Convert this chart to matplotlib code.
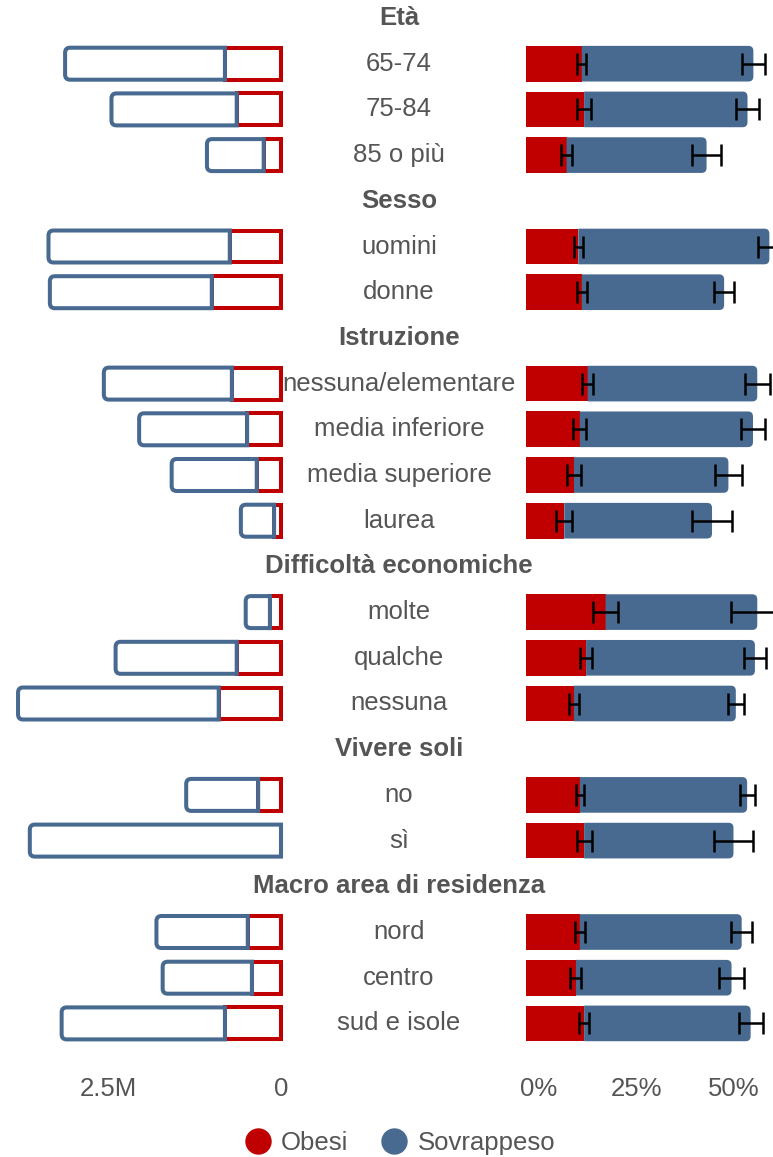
import matplotlib
matplotlib.use("Agg")
import matplotlib.pyplot as plt
from matplotlib.path import Path
from matplotlib.patches import PathPatch, Rectangle
from matplotlib.lines import Line2D
from matplotlib import transforms

plt.rcParams["font.family"] = ["Liberation Sans", "DejaVu Sans"]

# gruppi e categorie
groups = ["Età", "Sesso", "Istruzione", "Difficoltà economiche", "Vivere soli",
          "Macro area di residenza"]
group_sizes = [3, 2, 4, 3, 2, 3]
labels = ["65-74", "75-84", "85 o più",
          "uomini", "donne",
          "nessuna/elementare", "media inferiore", "media superiore", "laurea",
          "molte", "qualche", "nessuna",
          "no", "sì",
          "nord", "centro", "sud e isole"]

# stime di popolazione (migliaia di persone)
obesi_num = [810, 640, 250, 740, 1000, 710, 490, 350, 100, 160, 640, 900,
             330, 0, 480, 420, 810]
sovrap_num = [2310, 1810, 820, 2620, 2340, 1850, 1560, 1230, 480, 350, 1750,
              2900, 1040, 3630, 1320, 1290, 2360]

# prevalenze (%) e intervalli di confidenza (semiampiezza)
obesi_pct = [14.3, 14.9, 10.4, 13.4, 14.3, 15.8, 13.8, 12.3, 9.8, 20.4, 15.4,
             12.3, 13.8, 14.9, 13.8, 12.8, 14.9]
sovrap_pct = [44.0, 41.9, 35.9, 49.0, 36.5, 43.5, 44.4, 39.6, 37.9, 38.9, 43.3,
              41.5, 42.9, 38.3, 41.5, 39.9, 42.7]
obesi_err = [1.2, 1.7, 1.5, 1.2, 1.3, 1.5, 1.7, 1.7, 2.1, 3.1, 1.5, 1.2, 1.0,
             1.9, 1.3, 1.4, 1.2]
sovrap_err = [2.9, 2.9, 3.8, 2.8, 2.5, 3.2, 3.2, 3.4, 5.1, 6.8, 2.9, 2.1, 1.9,
              5.0, 2.7, 3.2, 3.1]

RED = "#c00000"
BLUE = "#496a90"
GREY = "#555555"
FS = 18.5

# una riga per ogni titolo di gruppo e per ogni categoria
header_y = []
rows_y = []
pos = 0
for n in group_sizes:
    header_y.append(pos)
    pos = pos + 1
    for i in range(n):
        rows_y.append(pos)
        pos = pos + 1

W, H = 773, 1157
fig = plt.figure(figsize=(W / 100, H / 100), dpi=100)


def px_axes(x0, x1, y0, y1):
    return fig.add_axes([x0 / W, 1 - y1 / H, (x1 - x0) / W, (y1 - y0) / H])


slot_px = 45.7
ax_top, ax_bottom = 0, 1046
first_px = 18
ymin = -(first_px - ax_top) / slot_px
ymax = (ax_bottom - first_px) / slot_px

px_per_k = 69.2 / 1000   # pixels per migliaio
px_per_pct = 3.9

ax_l = px_axes(0, 288, ax_top, ax_bottom)
ax_r = px_axes(526, 773, ax_top, ax_bottom)

ax_l.set_xlim(281 / px_per_k, -7 / px_per_k)
ax_r.set_xlim(0, 247 / px_per_pct)
for ax in [ax_l, ax_r]:
    ax.set_ylim(ymax, ymin)
    for s in ax.spines.values():
        s.set_visible(False)
    ax.set_yticks([])
    ax.tick_params(axis="x", length=0, labelsize=FS, labelcolor=GREY, pad=22)


def half_round(x_sq, x_rd, y0, y1, rx, ry):
    # rettangolo con gli angoli arrotondati solo dal lato x_rd
    s = 1 if x_rd > x_sq else -1
    verts = [(x_sq, y0), (x_rd - s * rx, y0), (x_rd, y0), (x_rd, y0 + ry),
             (x_rd, y1 - ry), (x_rd, y1), (x_rd - s * rx, y1), (x_sq, y1),
             (x_sq, y0)]
    codes = [Path.MOVETO, Path.LINETO, Path.CURVE3, Path.CURVE3,
             Path.LINETO, Path.CURVE3, Path.CURVE3, Path.LINETO,
             Path.CLOSEPOLY]
    return Path(verts, codes)


ry = 5 / slot_px
h = 0.78
h_out = 0.70

# pannello sinistro: numero di persone, solo contorni
for i in range(len(labels)):
    y = rows_y[i]
    ob = obesi_num[i]
    tot = obesi_num[i] + sovrap_num[i]
    ax_l.add_patch(Rectangle((0, y - h_out / 2), ob, h_out, fill=False,
                             edgecolor=RED, linewidth=2.9))
    p = half_round(ob, tot, y - h_out / 2, y + h_out / 2, 5 / px_per_k, ry)
    ax_l.add_patch(PathPatch(p, facecolor="none", edgecolor=BLUE,
                             linewidth=2.9, joinstyle="miter"))

# pannello destro: percentuali impilate con intervalli di confidenza
totals = []
for i in range(len(labels)):
    y = rows_y[i]
    ob = obesi_pct[i]
    tot = obesi_pct[i] + sovrap_pct[i]
    totals.append(tot)
    ax_r.add_patch(Rectangle((0, y - h / 2), ob, h, facecolor=RED,
                             edgecolor="none"))
    p = half_round(ob, tot, y - h / 2, y + h / 2, 5 / px_per_pct, ry)
    ax_r.add_patch(PathPatch(p, facecolor=BLUE, edgecolor="none"))

ax_r.errorbar(obesi_pct, rows_y, xerr=obesi_err, fmt="none", ecolor="black",
              elinewidth=1.8, capsize=8, capthick=1.8)
ax_r.errorbar(totals, rows_y, xerr=sovrap_err, fmt="none", ecolor="black",
              elinewidth=1.8, capsize=8, capthick=1.8)

ax_l.set_xticks([2500, 0])
ax_l.set_xticklabels(["2.5M", "0"])
ax_r.set_xticks([0, 25, 50])
ax_r.set_xticklabels(["0%", "25%", "50%"])
shift = transforms.ScaledTranslation(13 / 100, 0, fig.dpi_scale_trans)
for lbl in ax_r.get_xticklabels():
    lbl.set_transform(lbl.get_transform() + shift)

# etichette centrali
mid = transforms.blended_transform_factory(fig.transFigure, ax_r.transData)
for g, y in zip(groups, header_y):
    ax_r.text(399 / W, y, g, transform=mid, ha="center", va="center",
              fontsize=FS, fontweight="bold", color=GREY, clip_on=False)
for lab, y in zip(labels, rows_y):
    ax_r.text(399 / W, y, lab, transform=mid, ha="center", va="center",
              fontsize=FS, color=GREY, clip_on=False)

handles = [Line2D([], [], linestyle="none", marker="o", markersize=18,
                  markerfacecolor=RED, markeredgecolor=RED),
           Line2D([], [], linestyle="none", marker="o", markersize=18,
                  markerfacecolor=BLUE, markeredgecolor=BLUE)]
leg = fig.legend(handles, ["Obesi", "Sovrappeso"], loc="center", ncol=2,
                 bbox_to_anchor=(400 / W, 1 - 1143 / H), frameon=False,
                 fontsize=FS, handlelength=1.0, handletextpad=0.4,
                 columnspacing=1.3)
for t in leg.get_texts():
    t.set_color(GREY)

fig.savefig("out.png", dpi=100)
